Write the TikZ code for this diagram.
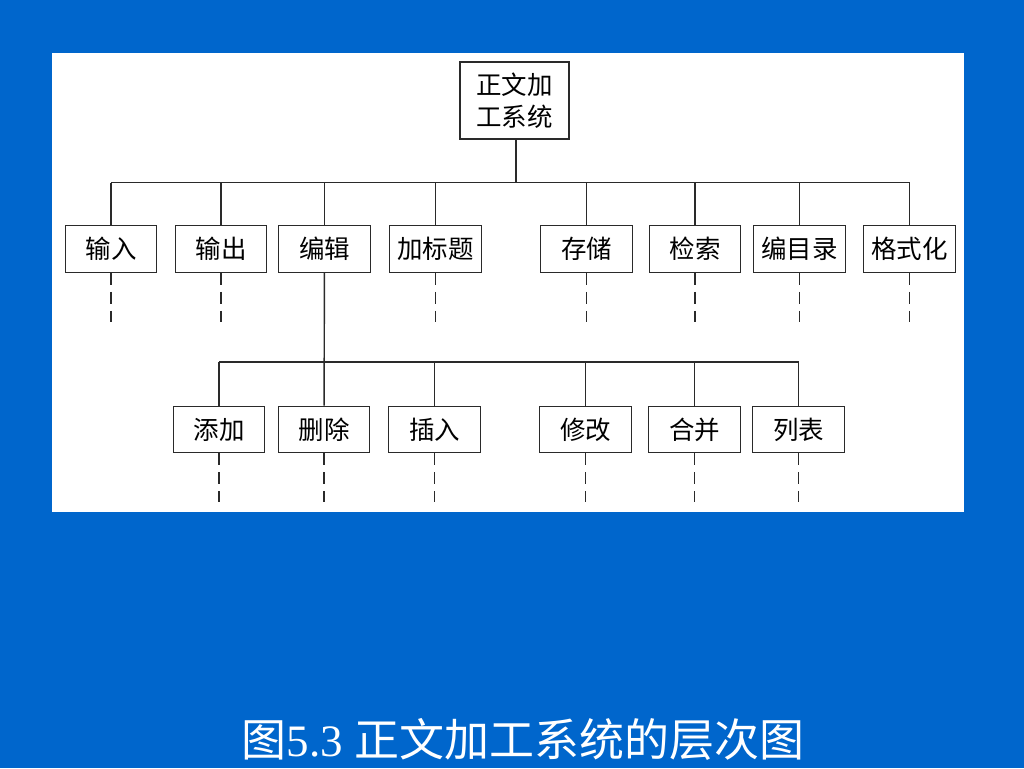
\documentclass[tikz,border=0pt]{standalone}
\usepackage{fontspec}
\setmainfont{Liberation Serif}
\newfontfamily\cjk{Noto Sans CJK SC}
\usepackage{xcolor}
\usetikzlibrary{positioning}
\definecolor{Slide}{HTML}{0066CC}
\definecolor{Ink}{HTML}{2A2A2A}

\begin{document}
\begin{tikzpicture}[
    x=0.02cm, y=-0.02cm,
    box/.style={draw=Ink, line width=0.8pt, fill=white, minimum width=1.83cm, minimum height=0.93cm,
        inner sep=2pt, align=center, font=\cjk\fontsize{14.5}{18.2}\selectfont},
    link/.style={draw=Ink, line width=0.8pt},
    tail/.style={draw=Ink, line width=0.8pt, dash pattern=on 6.8pt off 4pt},
    every node/.style={text=black}
]

% slide and panel
\fill[Slide] (0,0) rectangle (1024,768);
\fill[white] (52,53) rectangle (964,512);

\node[box, minimum width=2.18cm, minimum height=1.54cm] (root) at (514.5,100.5) {正文加\\工系统};

% first level
\node[box] (input)  at (111,249) {输入};
\node[box] (output) at (221,249) {输出};
\node[box] (edit)   at (324.5,249) {编辑};
\node[box] (title)  at (435.5,249) {加标题};
\node[box] (store)  at (586.5,249) {存储};
\node[box] (search) at (695,249) {检索};
\node[box] (index)  at (799.5,249) {编目录};
\node[box] (format) at (909.5,249) {格式化};

% second level
\node[box] (add)    at (219,429.5) {添加};
\node[box] (delete) at (324,429.5) {删除};
\node[box] (insert) at (434.5,429.5) {插入};
\node[box] (modify) at (585.5,429.5) {修改};
\node[box] (merge)  at (694.5,429.5) {合并};
\node[box] (list)   at (798.5,429.5) {列表};

\coordinate (bus1) at (516,182.5);
\coordinate (bus2) at (325.5,362);
\coordinate (end1) at (0,322);
\coordinate (end2) at (0,502);

% tree lines
\draw[link] (root.south -| bus1) -- (bus1);
\draw[link] (input.north |- bus1) -- (format.north |- bus1);
\draw[link] (input) -- (input.north |- bus1);
\draw[link] (output) -- (output.north |- bus1);
\draw[link] (edit) -- (edit.north |- bus1);
\draw[link] (title) -- (title.north |- bus1);
\draw[link] (store) -- (store.north |- bus1);
\draw[link] (search) -- (search.north |- bus1);
\draw[link] (index) -- (index.north |- bus1);
\draw[link] (format) -- (format.north |- bus1);

\draw[link] (edit) -- (delete);
\draw[link] (add.north |- bus2) -- (list.north |- bus2);
\draw[link] (add) -- (add.north |- bus2);
\draw[link] (insert) -- (insert.north |- bus2);
\draw[link] (modify) -- (modify.north |- bus2);
\draw[link] (merge) -- (merge.north |- bus2);
\draw[link] (list) -- (list.north |- bus2);

% unfinished branches
\draw[tail] (input) -- (input.south |- end1);
\draw[tail] (output) -- (output.south |- end1);
\draw[tail] (title) -- (title.south |- end1);
\draw[tail] (store) -- (store.south |- end1);
\draw[tail] (search) -- (search.south |- end1);
\draw[tail] (index) -- (index.south |- end1);
\draw[tail] (format) -- (format.south |- end1);
\draw[tail] (add) -- (add.south |- end2);
\draw[tail] (delete) -- (delete.south |- end2);
\draw[tail] (insert) -- (insert.south |- end2);
\draw[tail] (modify) -- (modify.south |- end2);
\draw[tail] (merge) -- (merge.south |- end2);
\draw[tail] (list) -- (list.south |- end2);

\node[anchor=base, text=white, font=\fontsize{25.6}{30}\selectfont, inner sep=0pt] (caption) at (523,756)
    {{\cjk 图}5.3 {\cjk 正文加工系统的层次图}};

\end{tikzpicture}
\end{document}
